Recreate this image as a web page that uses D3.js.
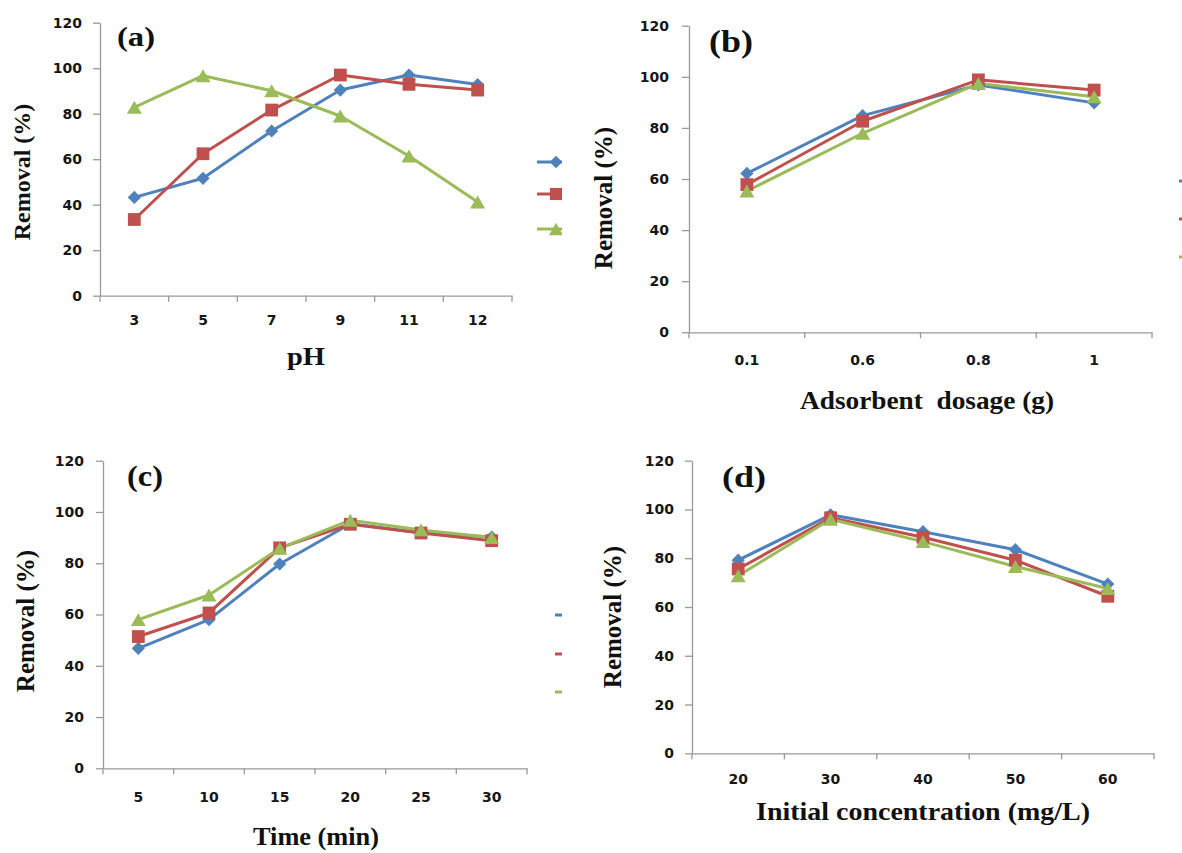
<!DOCTYPE html>
<html>
<head>
<meta charset="utf-8">
<script src="https://cdn.jsdelivr.net/npm/d3@7/dist/d3.min.js"></script>
<style>
  html, body { margin: 0; padding: 0; background: #fff; }
  svg { display: block; }
</style>
</head>
<body>
<svg id="chart" width="1182" height="853"></svg>
<script>
// ---- data ----
const seriesNames = ["S1", "S2", "S3"];
const seriesColors = ["#4F81BD", "#C0504D", "#9BBB59"];
const yTicks = [0, 20, 40, 60, 80, 100, 120];

// (a) effect of pH
const phLabels = ["3", "5", "7", "9", "11", "12"];
const phBlue  = [43.2, 51.6, 72.4, 90.4, 97.0, 92.8];
const phRed   = [33.5, 62.4, 81.6, 97.0, 92.9, 90.4];
const phGreen = [82.8, 96.7, 90.1, 79.0, 61.4, 41.2];

// (b) effect of adsorbent dosage
const doseLabels = ["0.1", "0.6", "0.8", "1"];
const doseBlue  = [62.2, 84.8, 96.8, 89.8];
const doseRed   = [57.8, 82.6, 98.8, 94.8];
const doseGreen = [55.3, 77.9, 97.4, 92.2];

// (c) effect of contact time
const timeLabels = ["5", "10", "15", "20", "25", "30"];
const timeBlue  = [46.8, 58.0, 79.7, 95.4, 91.9, 90.2];
const timeRed   = [51.4, 60.6, 86.0, 95.2, 91.8, 88.8];
const timeGreen = [58.0, 67.6, 85.8, 96.8, 93.0, 90.0];

// (d) effect of initial concentration
const concLabels = ["20", "30", "40", "50", "60"];
const concBlue  = [79.2, 97.8, 90.9, 83.5, 69.4];
const concRed   = [75.6, 96.6, 88.6, 79.2, 64.4];
const concGreen = [72.8, 96.0, 86.8, 76.6, 67.6];

// ---- marker shapes (centred on the point) ----
const markerPath = [
  s => `M0,${-s}L${s},0L0,${s}L${-s},0Z`,                              // diamond
  s => `M${-s},${-s}H${s}V${s}H${-s}Z`,                                 // square
  s => `M0,${-s * 0.95}L${s * 1.1},${s * 0.95}L${-s * 1.1},${s * 0.95}Z` // triangle
];
const markerSize = [6.6, 6.4, 6.8];

const SERIF = '"Liberation Serif", "Times New Roman", serif';
const SANS = '"DejaVu Sans", Lato, sans-serif';

const svg = d3.select("#chart");
const defs = svg.append("defs");

const panels = [
  {
    id: "a", cats: phLabels, series: [phBlue, phRed, phGreen],
    left: 100, right: 512, top: 22.7, bottom: 295.7,
    xPad: 19, yPad: 11,
    letter: "(a)", letterX: 117, letterY: 46, letterSize: 28, letterLen: 38,
    xTitle: "pH", xTitleX: 306, xTitleY: 365, xTitleSize: 25, xTitleLen: 38,
    yTitleX: 30, yTitleY: 172, yTitleSize: 24,
    legend: { x0: 537, x1: 576, mx: 556, ys: [162, 194, 229], clip: 562 }
  },
  {
    id: "b", cats: doseLabels, series: [doseBlue, doseRed, doseGreen],
    left: 689, right: 1152, top: 25.7, bottom: 332.3,
    xPad: 23, yPad: 13,
    letter: "(b)", letterX: 709, letterY: 52, letterSize: 31, letterLen: 44,
    xTitle: "Adsorbent  dosage (g)", xTitleX: 927, xTitleY: 409, xTitleSize: 26, xTitleLen: 254,
    yTitleX: 612, yTitleY: 198, yTitleSize: 25,
    legend: { x0: 1179, x1: 1220, mx: 1200, ys: [181, 219, 257], clip: 1182 }
  },
  {
    id: "c", cats: timeLabels, series: [timeBlue, timeRed, timeGreen],
    left: 103, right: 527, top: 460.7, bottom: 768.3,
    xPad: 24, yPad: 12,
    letter: "(c)", letterX: 127, letterY: 486, letterSize: 29, letterLen: 36,
    xTitle: "Time (min)", xTitleX: 316, xTitleY: 845, xTitleSize: 26, xTitleLen: 126,
    yTitleX: 34, yTitleY: 621, yTitleSize: 25,
    legend: { x0: 555, x1: 594, mx: 574, ys: [615, 654, 692], clip: 562 }
  },
  {
    id: "d", cats: concLabels, series: [concBlue, concRed, concGreen],
    left: 692, right: 1154, top: 460.7, bottom: 753.3,
    xPad: 21, yPad: 11,
    letter: "(d)", letterX: 722, letterY: 487, letterSize: 29, letterLen: 44,
    xTitle: "Initial concentration (mg/L)", xTitleX: 923, xTitleY: 820, xTitleSize: 25, xTitleLen: 334,
    yTitleX: 621, yTitleY: 617, yTitleSize: 25,
    legend: null
  }
];

panels.forEach(drawPanel);

function styleTickText(sel) {
  sel.selectAll(".tick text")
    .style("font-family", SANS)
    .style("font-weight", "700")
    .style("font-size", "14px")
    .style("fill", "#161616");
}

function serifText(sel, size) {
  return sel.style("font-family", SERIF)
    .style("font-weight", "700")
    .style("font-size", size + "px")
    .style("fill", "#111");
}

function drawPanel(p) {
  const g = svg.append("g").attr("class", "panel-" + p.id);

  const x = d3.scaleBand().domain(p.cats).range([p.left, p.right]);
  const y = d3.scaleLinear().domain([0, 120]).range([p.bottom, p.top]);
  const cx = c => x(c) + x.bandwidth() / 2;

  // y axis
  const yAxis = g.append("g")
    .attr("transform", `translate(${p.left},0)`)
    .call(d3.axisLeft(y).tickValues(yTicks).tickSize(7).tickSizeOuter(0).tickPadding(p.yPad));
  // x axis labels (band centres) + tick marks on band boundaries
  const xAxis = g.append("g")
    .attr("transform", `translate(0,${p.bottom})`)
    .call(d3.axisBottom(x).tickSize(0).tickSizeOuter(0).tickPadding(p.xPad));
  const bounds = p.cats.map(c => x(c)).concat([x.range()[1]]);
  xAxis.selectAll(".bound").data(bounds).enter().append("line")
    .attr("class", "bound")
    .attr("x1", d => d).attr("x2", d => d)
    .attr("y1", 0).attr("y2", 6);
  [yAxis, xAxis].forEach(a => {
    a.selectAll("path.domain").attr("stroke", "#9a9a9a").attr("stroke-width", 1.3);
    a.selectAll("line").attr("stroke", "#9a9a9a").attr("stroke-width", 1.3);
    styleTickText(a);
  });

  // series lines
  const line = d3.line().x((d, i) => cx(p.cats[i])).y(d => y(d));
  p.series.forEach((vals, si) => {
    g.append("path")
      .datum(vals)
      .attr("fill", "none")
      .attr("stroke", seriesColors[si])
      .attr("stroke-width", 3)
      .attr("stroke-linejoin", "round")
      .attr("d", line);
  });
  // markers drawn after all lines
  p.series.forEach((vals, si) => {
    g.append("g").selectAll("path")
      .data(vals)
      .enter().append("path")
      .attr("transform", (d, i) => `translate(${cx(p.cats[i])},${y(d)})`)
      .attr("d", markerPath[si](markerSize[si]))
      .attr("fill", seriesColors[si]);
  });

  // panel letter
  serifText(g.append("text"), p.letterSize)
    .attr("x", p.letterX).attr("y", p.letterY)
    .attr("textLength", p.letterLen).attr("lengthAdjust", "spacingAndGlyphs")
    .text(p.letter);

  // x title
  serifText(g.append("text"), p.xTitleSize)
    .attr("x", p.xTitleX - p.xTitleLen / 2).attr("y", p.xTitleY)
    .attr("textLength", p.xTitleLen).attr("lengthAdjust", "spacingAndGlyphs")
    .style("white-space", "pre")
    .text(p.xTitle);

  // y title
  serifText(g.append("text"), p.yTitleSize)
    .attr("transform", `translate(${p.yTitleX},${p.yTitleY}) rotate(-90)`)
    .attr("text-anchor", "middle")
    .text("Removal (%)");

  // legend (cut off at the panel edge)
  if (p.legend) {
    const L = p.legend;
    const clipId = "clip-" + p.id;
    defs.append("clipPath").attr("id", clipId)
      .append("rect").attr("x", 0).attr("y", 0).attr("width", L.clip).attr("height", 853);
    const lg = g.append("g").attr("clip-path", `url(#${clipId})`);
    seriesNames.forEach((name, si) => {
      const e = lg.append("g").attr("class", "legend-" + name);
      e.append("line")
        .attr("x1", L.x0).attr("x2", L.x1)
        .attr("y1", L.ys[si]).attr("y2", L.ys[si])
        .attr("stroke", seriesColors[si]).attr("stroke-width", 3);
      e.append("path")
        .attr("transform", `translate(${L.mx},${L.ys[si]})`)
        .attr("d", markerPath[si](markerSize[si] * 0.95))
        .attr("fill", seriesColors[si]);
    });
  }
}
</script>
</body>
</html>
